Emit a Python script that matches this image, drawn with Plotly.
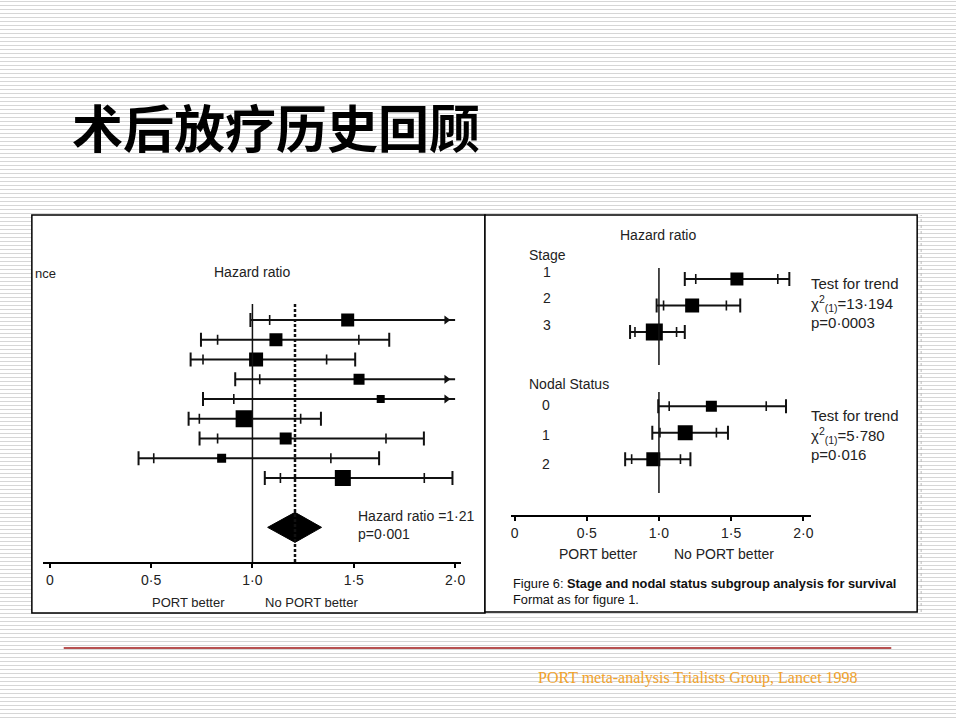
import plotly.graph_objects as go

# ---------------- data ----------------
# Left panel: individual trials (hazard ratio, 95% CI ticks, 99% CI ends)
left_rows = [1, 2, 3, 4, 5, 6, 7, 8, 9]
left_hr = [1.47, 1.116, 1.018, 1.526, 1.633, 0.959, 1.164, 0.848, 1.446]
left_lo95 = [1.085, 0.828, 0.756, 1.036, 0.908, 0.738, 0.828, 0.513, 1.138]
left_hi95 = [1.905, 1.525, 1.366, 1.905, 1.905, 1.238, 1.659, 1.387, 1.848]
left_lo99 = [0.99, 0.746, 0.695, 0.915, 0.756, 0.685, 0.739, 0.438, 1.061]
left_hi99 = [2.0, 1.675, 1.507, 2.0, 2.0, 1.338, 1.846, 1.625, 1.987]
left_arrow = [True, False, False, True, True, False, False, False, False]
left_size = [13, 13, 14, 11, 8, 17, 12, 9, 16]

pooled_hr = 1.21
pooled_lo = 1.075
pooled_hi = 1.341
pooled_row = 11.5

# Right panel: stage and nodal status subgroups
stage_labels = ["1", "2", "3"]
stage_rows = [1, 2, 3]
stage_hr = [1.540, 1.230, 0.968]
stage_lo95 = [1.255, 1.032, 0.834]
stage_hi95 = [1.823, 1.467, 1.122]
stage_lo99 = [1.179, 0.984, 0.800]
stage_hi99 = [1.903, 1.563, 1.179]
stage_size = [13, 14, 17]

nodal_labels = ["0", "1", "2"]
nodal_rows = [5.8, 6.8, 7.8]
nodal_hr = [1.363, 1.182, 0.961]
nodal_lo95 = [1.071, 1.007, 0.811]
nodal_hi95 = [1.743, 1.398, 1.149]
nodal_lo99 = [0.995, 0.954, 0.766]
nodal_hi99 = [1.880, 1.478, 1.218]
nodal_size = [11, 15, 14]

tick_vals = [0, 0.5, 1.0, 1.5, 2.0]
tick_text = ["0", "0·5", "1·0", "1·5", "2·0"]

# ---------------- helpers ----------------
W, H = 960, 720
def px(x):
    return x / W
def py(y):
    return 1 - y / H

INK = "#111111"
SANS = "Liberation Sans, Arial, sans-serif"

fig = go.Figure()

def add_forest(xa, ya, rows, hr, lo95, hi95, lo99, hi99, sizes, arrows=None,
               cap=10, tick=7):
    n = len(rows)
    if arrows is None:
        arrows = [False] * n
    lx, ly = [], []
    for i in range(n):
        lx += [lo99[i], hi99[i], None]
        ly += [rows[i], rows[i], None]
    fig.add_trace(go.Scatter(x=lx, y=ly, mode="lines", xaxis=xa, yaxis=ya,
                             line=dict(color=INK, width=2), hoverinfo="skip",
                             showlegend=False))
    # end caps (99% CI), skip where arrow
    cx = [lo99[i] for i in range(n)] + [hi99[i] for i in range(n) if not arrows[i]]
    cy = [rows[i] for i in range(n)] + [rows[i] for i in range(n) if not arrows[i]]
    fig.add_trace(go.Scatter(x=cx, y=cy, mode="markers", xaxis=xa, yaxis=ya,
                             marker=dict(symbol="line-ns", size=cap, opacity=1,
                                         line=dict(color=INK, width=2)),
                             hoverinfo="skip", showlegend=False))
    # inner ticks (95% CI)
    tx = lo95 + [hi95[i] for i in range(n) if not arrows[i]]
    ty = rows + [rows[i] for i in range(n) if not arrows[i]]
    fig.add_trace(go.Scatter(x=tx, y=ty, mode="markers", xaxis=xa, yaxis=ya,
                             marker=dict(symbol="line-ns", size=tick, opacity=1,
                                         line=dict(color=INK, width=1.6)),
                             hoverinfo="skip", showlegend=False))
    # arrows for CIs running off the scale
    ax_ = [hi95[i] + (hi99[i] - hi95[i]) * 0.55 for i in range(n) if arrows[i]]
    ay_ = [rows[i] for i in range(n) if arrows[i]]
    if ax_:
        fig.add_trace(go.Scatter(x=ax_, y=ay_, mode="markers", xaxis=xa, yaxis=ya,
                                 marker=dict(symbol="triangle-right", size=8,
                                             opacity=1, color=INK,
                                             line=dict(width=0)),
                                 hoverinfo="skip", showlegend=False))
    # point estimates
    fig.add_trace(go.Scatter(x=hr, y=rows, mode="markers", xaxis=xa, yaxis=ya,
                             marker=dict(symbol="square", size=sizes, color="#000000",
                                         opacity=1, line=dict(width=0)),
                             hoverinfo="skip", showlegend=False))

# left forest
add_forest("x", "y", left_rows, left_hr, left_lo95, left_hi95, left_lo99,
           left_hi99, left_size, left_arrow, cap=10, tick=7)
# pooled diamond
dh = 0.76
fig.add_trace(go.Scatter(
    x=[pooled_lo, pooled_hr, pooled_hi, pooled_hr, pooled_lo],
    y=[pooled_row, pooled_row - dh, pooled_row, pooled_row + dh, pooled_row],
    mode="lines", fill="toself", fillcolor="#000000",
    line=dict(color="#000000", width=1), xaxis="x", yaxis="y",
    hoverinfo="skip", showlegend=False))

# right forests
add_forest("x2", "y2", stage_rows, stage_hr, stage_lo95, stage_hi95, stage_lo99,
           stage_hi99, stage_size, cap=10, tick=7)
add_forest("x2", "y2", nodal_rows, nodal_hr, nodal_lo95, nodal_hi95, nodal_lo99,
           nodal_hi99, nodal_size, cap=10, tick=7)

# ---------------- axes ----------------
L0, LSCALE = 50.0, 203.5        # pixel of HR=0, pixels per unit
LROW0, LROWH = 320.0, 19.75      # pixel of row 1, pixels per row
def lrow(y):
    return 1 + (y - LROW0) / LROWH
R0, RSCALE = 516.7, 145.0
RROW0, RROWH = 279.0, 26.5
def rrow(y):
    return 1 + (y - RROW0) / RROWH

axis_common = dict(tickmode="array", tickvals=tick_vals, ticktext=tick_text,
                   showline=True, linecolor="#000000", linewidth=2,
                   ticks="outside", ticklen=4, tickwidth=1.5, tickcolor="#000000",
                   showgrid=False, zeroline=False,
                   tickfont=dict(family=SANS, size=14, color="#222222"))
fig.update_layout(
    xaxis=dict(domain=[px(43), px(463)],
               range=[(43 - L0) / LSCALE, (463 - L0) / LSCALE],
               anchor="y", **axis_common),
    yaxis=dict(domain=[py(562), py(300)], range=[lrow(562), lrow(300)],
               visible=False, anchor="x"),
    xaxis2=dict(domain=[px(513), px(814)],
                range=[(513 - R0) / RSCALE, (814 - R0) / RSCALE],
                anchor="y2", **axis_common),
    yaxis2=dict(domain=[py(515), py(250)], range=[rrow(515), rrow(250)],
                visible=False, anchor="x2"),
)

# ---------------- shapes ----------------
shapes = []
for k in range(0, H, 4):
    shapes.append(dict(type="line", xref="paper", yref="paper", x0=0, x1=1,
                       y0=py(k + 1.5), y1=py(k + 1.5), layer="below",
                       line=dict(color="#d6d6d6", width=1)))
shapes.append(dict(type="rect", xref="paper", yref="paper", x0=px(32), x1=px(487),
                   y0=py(613), y1=py(215), fillcolor="white", layer="below",
                   line=dict(color="#000000", width=1.5)))
shapes.append(dict(type="rect", xref="paper", yref="paper", x0=px(487), x1=px(921),
                   y0=py(612), y1=py(215), fillcolor="white", layer="below",
                   line=dict(color="#000000", width=1.5)))
shapes.append(dict(type="line", xref="paper", yref="paper", x0=px(925), x1=px(925),
                   y0=py(612), y1=py(215), layer="below",
                   line=dict(color="#bbbbbb", width=1, dash="dot")))
shapes.append(dict(type="line", xref="x", yref="y", x0=1.0, x1=1.0,
                   y0=lrow(304), y1=lrow(562), line=dict(color=INK, width=1.5)))
shapes.append(dict(type="line", xref="x", yref="y", x0=pooled_hr, x1=pooled_hr,
                   y0=lrow(304), y1=lrow(562),
                   line=dict(color=INK, width=2.5, dash="3px,2px")))
shapes.append(dict(type="line", xref="x2", yref="y2", x0=1.0, x1=1.0,
                   y0=rrow(268), y1=rrow(365), line=dict(color=INK, width=1.5)))
shapes.append(dict(type="line", xref="x2", yref="y2", x0=1.0, x1=1.0,
                   y0=rrow(392), y1=rrow(493), line=dict(color=INK, width=1.5)))
shapes.append(dict(type="line", xref="paper", yref="paper", x0=px(64), x1=px(895),
                   y0=py(648), y1=py(648), line=dict(color="#a01818", width=1.5)))

# ---------------- annotations ----------------
ann = []
def text(x, y, s, size=14, anchor="left", family=SANS, color="#222222", **kw):
    ann.append(dict(x=px(x), y=py(y), xref="paper", yref="paper", text=s,
                    showarrow=False, xanchor=anchor, yanchor="middle",
                    font=dict(family=family, size=size, color=color), **kw))

text(70, 126, "<b>术后放疗历史回顾</b>", size=51,
     family="Noto Sans CJK SC, sans-serif", color="#000000")

text(33, 273, "nce", size=13)
text(253, 272, "Hazard ratio", size=14, anchor="center")
text(357, 516, "Hazard ratio =1·21", size=14)
text(357, 534, "p=0·001", size=14)
text(189, 602, "PORT better", size=13, anchor="center")
text(313, 602, "No PORT better", size=13, anchor="center")

text(661, 235, "Hazard ratio", size=14, anchor="center")
text(529, 255, "Stage", size=14)
for lab, yy in zip(stage_labels, [272, 298, 325]):
    text(549, yy, lab, size=14, anchor="center")
text(529, 384, "Nodal Status", size=14)
for lab, yy in zip(nodal_labels, [405, 435, 464]):
    text(548, yy, lab, size=14, anchor="center")
text(812, 284, "Test for trend", size=15)
text(812, 303, "χ<sup>2</sup><sub>(1)</sub>=13·194", size=15)
text(812, 322, "p=0·0003", size=15)
text(812, 416, "Test for trend", size=15)
text(812, 435, "χ<sup>2</sup><sub>(1)</sub>=5·780", size=15)
text(812, 454, "p=0·016", size=15)
text(600, 554, "PORT better", size=14, anchor="center")
text(727, 554, "No PORT better", size=14, anchor="center")
text(513, 583, "Figure 6: <b>Stage and nodal status subgroup analysis for survival</b>",
     size=12.8, color="#111111")
text(513, 599, "Format as for figure 1.", size=12.8, color="#111111")

text(538, 678, "PORT meta-analysis Trialists Group, Lancet 1998", size=16,
     family="Liberation Serif, Times New Roman, serif", color="#f2a22a")

fig.update_layout(
    width=W, height=H, autosize=False,
    margin=dict(l=0, r=0, t=0, b=0),
    paper_bgcolor="white", plot_bgcolor="rgba(0,0,0,0)",
    shapes=shapes, annotations=ann, showlegend=False,
)

fig.write_html("out.html", config={"displayModeBar": False},
               post_script="document.body.style.margin='0px';"
                           "document.body.style.overflow='hidden';")
